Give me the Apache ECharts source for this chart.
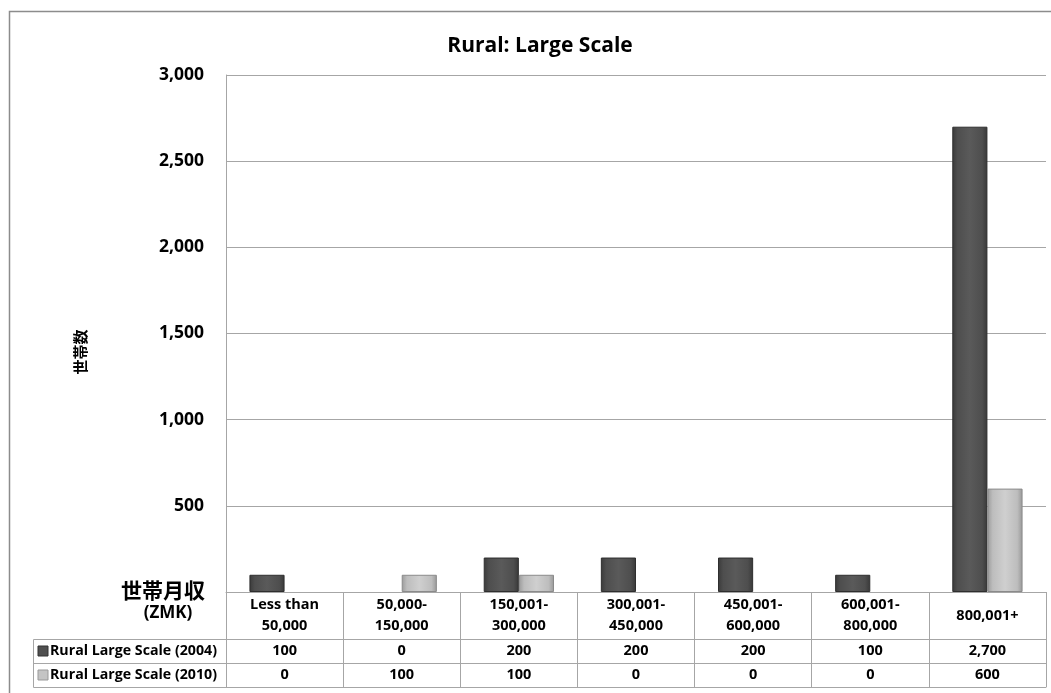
<!DOCTYPE html>
<html>
<head>
<meta charset="utf-8">
<script src="https://cdn.jsdelivr.net/npm/echarts@6/dist/echarts.min.js"></script>
<style>
  html, body { margin: 0; padding: 0; background: #fff; }
  #chart { width: 1051px; height: 693px; }
</style>
</head>
<body>
<div id="chart"></div>
<script>
// Income bands (monthly household income, ZMK)
const categories = [
  'Less than\n50,000', '50,000-\n150,000', '150,001-\n300,000', '300,001-\n450,000',
  '450,001-\n600,000', '600,001-\n800,000', '800,001+'
];
// Number of households per band
const seriesNames = ['Rural Large Scale (2004)', 'Rural Large Scale (2010)'];
const households2004 = [100, 0, 200, 200, 200, 100, 2700];
const households2010 = [0, 100, 100, 0, 0, 0, 600];
const yTicks = { min: 0, max: 3000, interval: 500 };

const FONT = '"Open Sans", "Noto Sans", sans-serif';
const CJK = '"Noto Sans CJK JP", sans-serif';
const LINE = '#a6a6a6';
const TABLE_FS = 14.5;

const fmt = v => v.toLocaleString('en-US');

// Plot frame
const G = { left: 226, right: 5, top: 75, bottom: 101 };
const plotBottom = 693 - G.bottom;      // 592
const headerH = 47, rowH = 24;
const tableLeft = 33;

const darkFill = {
  type: 'linear', x: 0, y: 0, x2: 1, y2: 0,
  colorStops: [
    { offset: 0, color: '#3a3a3a' }, { offset: 0.15, color: '#4e4e4e' },
    { offset: 0.5, color: '#5a5a5a' }, { offset: 0.85, color: '#4e4e4e' },
    { offset: 1, color: '#383838' }
  ]
};
const lightFill = {
  type: 'linear', x: 0, y: 0, x2: 1, y2: 0,
  colorStops: [
    { offset: 0, color: '#9a9a9a' }, { offset: 0.15, color: '#bdbdbd' },
    { offset: 0.5, color: '#cfcfcf' }, { offset: 0.85, color: '#bdbdbd' },
    { offset: 1, color: '#979797' }
  ]
};

// zero-height bars get no outline
const barData = (values) => values.map(v => ({
  value: v, itemStyle: v === 0 ? { borderWidth: 0, opacity: 0 } : {}
}));

function tableAxis(offset, labels, showLabel, margin) {
  return {
    type: 'category', data: categories, position: 'bottom', offset: offset,
    axisLine: { show: true, lineStyle: { color: LINE, width: 1 } },
    axisTick: { show: false },
    axisLabel: {
      show: showLabel, interval: 0, margin: margin, verticalAlign: 'middle',
      fontFamily: FONT, fontWeight: 'bold', fontSize: TABLE_FS, color: '#000',
      formatter: (v, i) => labels ? fmt(labels[i]) : ''
    }
  };
}

const chart = echarts.init(document.getElementById('chart'), null, { renderer: 'canvas' });

const legendRow = (name, idx, fill, border) => {
  const y = plotBottom + headerH + rowH * idx;
  return [
    { type: 'rect', shape: { x: tableLeft + 5, y: y + 7, width: 10, height: 10 },
      style: { fill: fill, stroke: border, lineWidth: 1 } },
    { type: 'text', x: tableLeft + 17, y: y + rowH / 2,
      style: { text: name, fontFamily: FONT, fontWeight: 'bold', fontSize: 14.2,
               fill: '#000', textVerticalAlign: 'middle', verticalAlign: 'middle' } }
  ];
};

chart.setOption({
  animation: false,
  backgroundColor: '#fff',
  title: {
    text: 'Rural: Large Scale', left: 535, top: 41, textAlign: 'center', textVerticalAlign: 'middle',
    textStyle: { fontFamily: FONT, fontWeight: 'bold', fontSize: 21, color: '#000' }
  },
  grid: G,
  xAxis: [
    {
      type: 'category', data: categories, position: 'bottom',
      axisLine: { show: true, lineStyle: { color: LINE } },
      axisTick: { show: true, interval: 0, length: headerH + rowH * 2, lineStyle: { color: LINE } },
      axisLabel: {
        interval: 0, margin: headerH / 2, verticalAlign: 'middle', lineHeight: 21,
        fontFamily: FONT, fontWeight: 'bold', fontSize: TABLE_FS, color: '#000'
      }
    },
    tableAxis(headerH, households2004, true, rowH / 2),
    tableAxis(headerH + rowH, households2010, true, rowH / 2),
    tableAxis(headerH + rowH * 2, null, false, 0)
  ],
  yAxis: {
    type: 'value', min: yTicks.min, max: yTicks.max, interval: yTicks.interval,
    axisLine: { show: true, lineStyle: { color: LINE } },
    axisTick: { show: false },
    splitLine: { lineStyle: { color: LINE, width: 1 } },
    axisLabel: {
      margin: 22, fontFamily: FONT, fontWeight: 'bold', fontSize: 17.5, color: '#000',
      formatter: v => v === 0 ? '' : fmt(v)
    }
  },
  series: [
    {
      name: seriesNames[0], type: 'bar', data: barData(households2004),
      barCategoryGap: '40%', barGap: '0%',
      itemStyle: { color: darkFill, borderColor: '#2e2e2e', borderWidth: 1 }
    },
    {
      name: seriesNames[1], type: 'bar', data: barData(households2010),
      barCategoryGap: '40%', barGap: '0%',
      itemStyle: { color: lightFill, borderColor: '#8a8a8a', borderWidth: 1 }
    }
  ],
  graphic: [
    // outer chart frame
    { type: 'rect', shape: { x: 9.5, y: 11.5, width: 1100, height: 800 },
      style: { fill: null, stroke: '#8c8c8c', lineWidth: 1.5 }, silent: true },
    // value-axis title, reading bottom to top
    { type: 'text', x: 80, y: 352, rotation: Math.PI / 2,
      style: { text: '世帯数', fontFamily: CJK, fontWeight: 'bold', fontSize: 15, fill: '#000',
               textAlign: 'center', align: 'center', textVerticalAlign: 'middle', verticalAlign: 'middle' } },
    // category-axis title, left of the header row
    { type: 'text', x: 163, y: plotBottom - 2,
      style: { text: '世帯月収', fontFamily: CJK, fontWeight: 'bold', fontSize: 21, fill: '#000',
               textAlign: 'center', align: 'center', textVerticalAlign: 'middle', verticalAlign: 'middle' } },
    { type: 'text', x: 168, y: plotBottom + 21,
      style: { text: '(ZMK)', fontFamily: FONT, fontWeight: 'bold', fontSize: 17, fill: '#000',
               textAlign: 'center', align: 'center', textVerticalAlign: 'middle', verticalAlign: 'middle' } },
    // legend-key column of the data table
    { type: 'polyline', shape: { points: [
        [G.left, plotBottom + headerH + 0.5], [tableLeft + 0.5, plotBottom + headerH + 0.5],
        [tableLeft + 0.5, plotBottom + headerH + rowH * 2 + 0.5], [G.left, plotBottom + headerH + rowH * 2 + 0.5]
      ] }, style: { stroke: LINE, lineWidth: 1, fill: null } },
    { type: 'line', shape: { x1: tableLeft, y1: plotBottom + headerH + rowH + 0.5, x2: G.left, y2: plotBottom + headerH + rowH + 0.5 },
      style: { stroke: LINE, lineWidth: 1 } },
    ...legendRow(seriesNames[0], 0, '#505050', '#333'),
    ...legendRow(seriesNames[1], 1, '#c4c4c4', '#999')
  ]
});
</script>
</body>
</html>
